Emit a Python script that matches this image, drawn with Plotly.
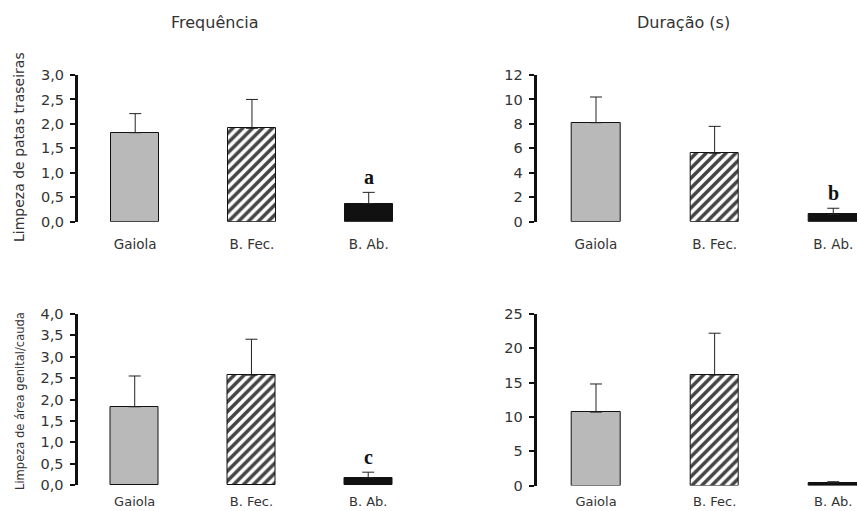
import plotly.graph_objects as go

W, H = 857, 511

categories = ["Gaiola", "B. Fec.", "B. Ab."]

# Frequência - Limpeza de patas traseiras
freq_patas = [1.82, 1.91, 0.37]
freq_patas_err = [0.39, 0.59, 0.23]
# Duração - Limpeza de patas traseiras
dur_patas = [8.1, 5.6, 0.6]
dur_patas_err = [2.1, 2.2, 0.5]
# Frequência - Limpeza de área genital/cauda
freq_genital = [1.83, 2.57, 0.17]
freq_genital_err = [0.72, 0.84, 0.13]
# Duração - Limpeza de área genital/cauda
dur_genital = [10.7, 16.1, 0.4]
dur_genital_err = [4.1, 6.1, 0.15]

sig_letters = ["a", "b", "c", ""]

col_titles = ["Frequência", "Duração (s)"]
row_titles = ["Limpeza de patas traseiras", "Limpeza de área genital/cauda"]

y_ranges = [[0, 3], [0, 12], [0, 4], [0, 25]]
y_dticks = [0.5, 2, 0.5, 5]
y_fmt = [True, False, True, False]

bar_colors = ["#b9b9b9", "white", "#111111"]
bar_patterns = ["", "/", ""]

# panel pixel geometry: (x_axis_px, x_range, px_per_unit, y0_px, ytop_px, xlabel_gap, xlabel_size)
panels = [
    (78.0, [-0.49, 2.5], 116.75, 221.7, 75.0, 10, 13.5),
    (536.7, [-0.5, 2.2], 118.7, 221.7, 75.0, 10, 13.5),
    (77.5, [-0.49, 2.5], 116.75, 485.0, 314.0, 4, 13),
    (536.7, [-0.5, 2.2], 118.7, 485.5, 314.0, 4, 13),
]

data = [
    (freq_patas, freq_patas_err),
    (dur_patas, dur_patas_err),
    (freq_genital, freq_genital_err),
    (dur_genital, dur_genital_err),
]

fig = go.Figure()
font_sans = "DejaVu Sans, Liberation Sans, Arial, sans-serif"
font_cond = "DejaVu Sans Condensed, DejaVu Sans, sans-serif"

for i, ((vals, errs), (xpx, xr, ppu, y0, yt, gap, xfs)) in enumerate(zip(data, panels)):
    n = "" if i == 0 else str(i + 1)
    x1 = min(W, xpx + (xr[1] - xr[0]) * ppu)
    fig.add_trace(go.Bar(
        x=list(range(len(categories))), y=vals,
        xaxis="x" + n, yaxis="y" + n,
        width=0.41,
        marker=dict(color=bar_colors,
                    line=dict(color="#111111", width=1),
                    pattern=dict(shape=bar_patterns, size=7, solidity=0.5,
                                 fillmode="overlay", fgcolor="#000000",
                                 fgopacity=1)),
        error_y=dict(type="data", symmetric=False, array=errs,
                     arrayminus=[0] * len(errs), color="#222222",
                     thickness=1, width=6),
        showlegend=False,
    ))
    fig.update_layout(**{
        "xaxis" + n: dict(domain=[xpx / W, x1 / W], range=xr,
                          anchor="y" + n, showline=False, showgrid=False,
                          zeroline=False, tickmode="array", automargin=False,
                          tickvals=list(range(len(categories))),
                          ticktext=categories, ticks="outside", ticklen=gap,
                          tickcolor="rgba(0,0,0,0)",
                          tickfont=dict(family=font_sans, size=xfs, color="#333333")),
        "yaxis" + n: dict(domain=[1 - y0 / H, 1 - yt / H], range=y_ranges[i],
                          anchor="x" + n, showline=True, linewidth=3,
                          linecolor="#111111", showgrid=False, zeroline=False,
                          ticks="outside", ticklen=5, tickwidth=2, automargin=False,
                          tickcolor="#111111", dtick=y_dticks[i],
                          ticklabelstandoff=3,
                          tickformat=".1f" if y_fmt[i] else "d",
                          tickfont=dict(family=font_sans, size=14.5, color="#333333")),
    })
    if sig_letters[i]:
        top = vals[2] + errs[2]
        fig.add_annotation(x=2, y=top, xref="x" + n, yref="y" + n,
                           text="<b>" + sig_letters[i] + "</b>", showarrow=False,
                           xanchor="center", yanchor="bottom", yshift=2,
                           font=dict(family="Liberation Serif, Times New Roman, serif",
                                     size=20, color="#111111"))

# column titles
for txt, xc in zip(col_titles, [215, 683]):
    fig.add_annotation(x=xc / W, y=1 - 22 / H, xref="paper", yref="paper",
                       text=txt, showarrow=False, xanchor="center", yanchor="middle",
                       font=dict(family=font_sans, size=16, color="#333333"))
# row titles
for txt, yc, fam, fs in zip(row_titles, [147, 401], [font_sans, font_cond], [14, 12.8]):
    fig.add_annotation(x=19 / W, y=1 - yc / H, xref="paper", yref="paper",
                       text=txt, showarrow=False, textangle=-90,
                       xanchor="center", yanchor="middle",
                       font=dict(family=fam, size=fs, color="#333333"))

fig.update_layout(
    template="none",
    width=W, height=H,
    margin=dict(l=0, r=0, t=0, b=0, autoexpand=False),
    paper_bgcolor="white", plot_bgcolor="white",
    separators=",.",
    bargap=0,
)

fig.write_html("out.html")
